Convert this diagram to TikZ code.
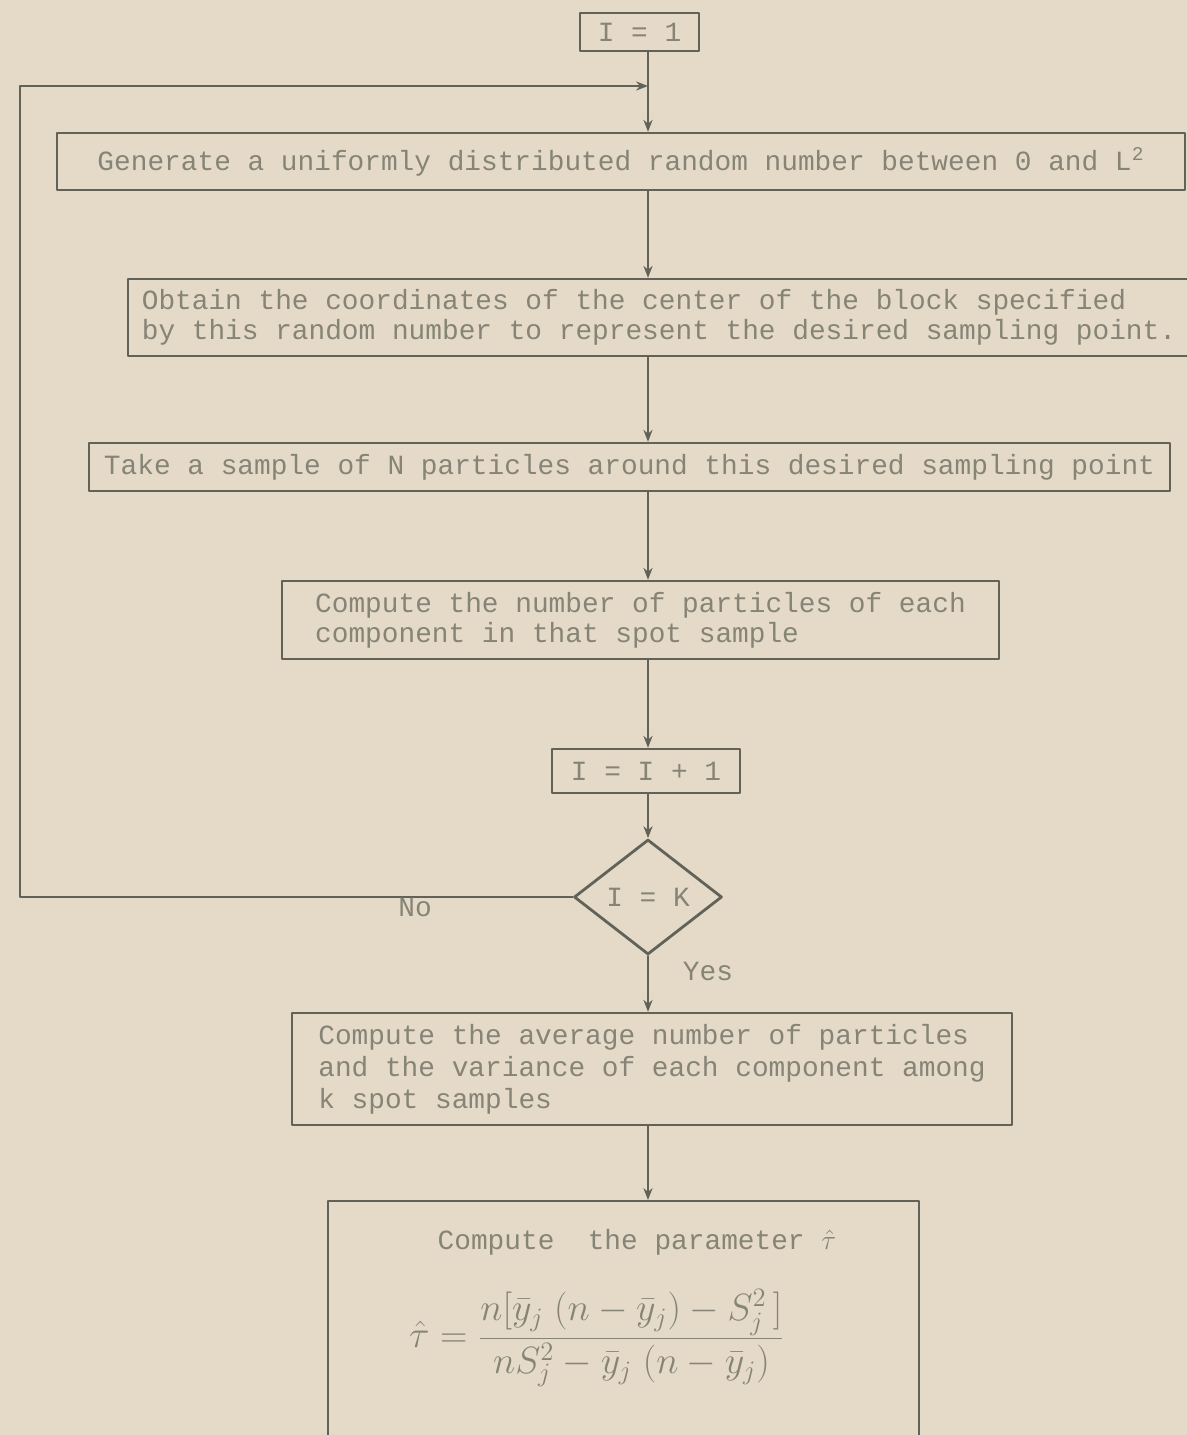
\documentclass[tikz,border=0pt]{standalone}
\usepackage{fix-cm}
\usepackage{fontspec}
\setmonofont{Liberation Mono}
\usetikzlibrary{shapes.geometric, arrows.meta}
\definecolor{paper}{RGB}{228,218,199}
\definecolor{ink}{RGB}{98,98,88}
\definecolor{typeink}{RGB}{134,132,118}

\begin{document}
\begin{tikzpicture}[
	>={Stealth[length=6pt, width=4.6pt]}, line join=round, line cap=round,
	x=0.5pt, y=-0.5pt,
	every node/.style={font=\ttfamily\fontsize{13.9}{15}\selectfont, text=typeink},
	box/.style={draw=ink, line width=1.2pt, inner sep=0pt, align=left},
	flow/.style={->, draw=ink, line width=0.7pt},
	]
	
	% 1. NỀN GIẤY
	\path[use as bounding box, fill=paper] (0,0) rectangle (1187,1435);
	\clip (0,0) rectangle (1187,1435);
	
	% 2. CÁC KHỐI
	\coordinate (axis) at (648,0);
	\coordinate (corner) at (20,86);
	
	\node[box, minimum width=59.5pt, minimum height=19pt] (start) at (639.5,32) {I = 1};
	\node[box, minimum width=564pt, minimum height=28.5pt] (gen) at (621,161.5)
		{Generate a uniformly distributed random number between 0 and L\textsuperscript{2}};
	\node[box, minimum width=531pt, minimum height=38.5pt] (obtain) at (659,317.5)
		{Obtain the coordinates of the center of the block specified\\
		 by this random number to represent the desired sampling point.};
	\node[box, minimum width=540.5pt, minimum height=24pt] (take) at (629.5,467)
		{Take a sample of N particles around this desired sampling point};
	\node[box, minimum width=358.5pt, minimum height=39pt] (count) at (640.5,620)
		{Compute the number of particles of each\\
		 component in that spot sample};
	\node[box, minimum width=94pt, minimum height=22pt] (incr) at (646,771) {I = I + 1};
	\node[box, diamond, aspect=1.3, line width=1.4pt, align=center,
		minimum width=74pt, minimum height=57.5pt] (test) at (648,897) {I = K};
	\node[box, minimum width=360pt, minimum height=56pt] (avg) at (652,1069)
		{Compute the average number of particles\\[1pt]
		 and the variance of each component among\\[1pt]
		 k spot samples};
	\node[box, minimum width=295.5pt, minimum height=150pt, anchor=north] (param) at (623.5,1200) {};
	
	% 3. NỘI DUNG KHỐI CUỐI
	\node (ptitle) at (637,1242) {Compute\ \ the parameter $\hat{\tau}$};
	\node[font=\fontsize{19}{22}\selectfont] (formula) at (597,1338)
		{$\hat{\tau} = \displaystyle\frac{n[\bar{y}_j\;(n - \bar{y}_j) - S_j^2\,]}{nS_j^2 - \bar{y}_j\;(n - \bar{y}_j)}$};
	
	% 4. ĐƯỜNG NỐI
	\draw[flow] (start.south -| axis) -- (gen.north -| axis);
	\draw[flow] (gen.south -| axis) -- (obtain.north -| axis);
	\draw[flow] (obtain.south -| axis) -- (take.north -| axis);
	\draw[flow] (take.south -| axis) -- (count.north -| axis);
	\draw[flow] (count.south -| axis) -- (incr.north -| axis);
	\draw[flow] (incr.south -| axis) -- (test.north);
	\draw[flow] (test.south) -- (test.south |- avg.north);
	\draw[flow] (avg.south -| axis) -- (param.north -| axis);
	
	% vòng lặp quay lại
	\draw[flow] (test.west) -| (corner) -- (corner -| axis);
	
	% 5. NHÃN
	\node (no) at (415,907) {No};
	\node (yes) at (708,971) {Yes};
	
\end{tikzpicture}
\end{document}
